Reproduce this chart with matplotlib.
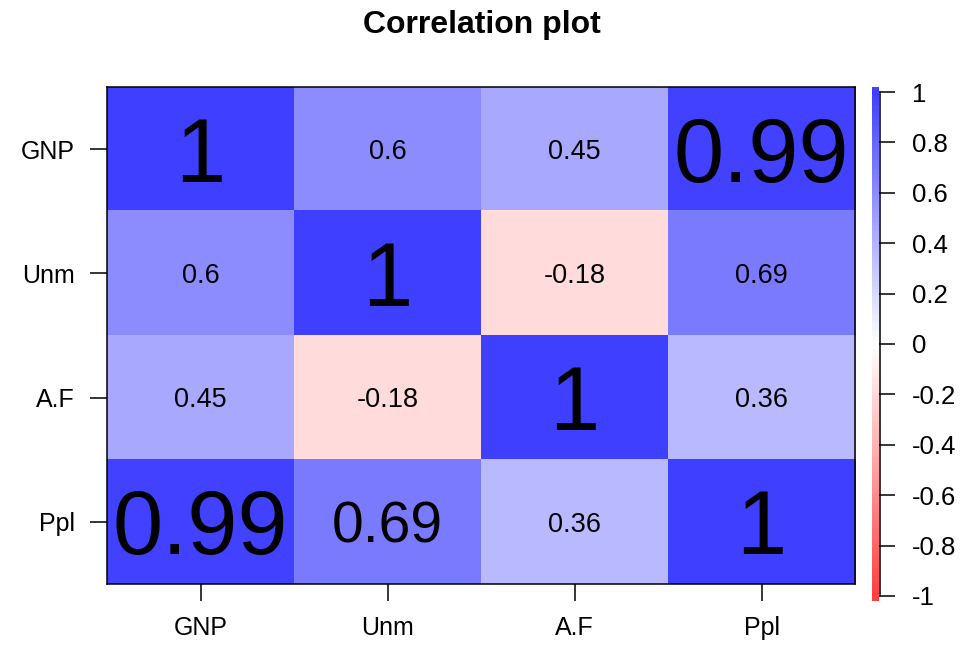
import numpy as np
import matplotlib
matplotlib.use("Agg")
import matplotlib.pyplot as plt
from matplotlib.colors import LinearSegmentedColormap

plt.rcParams['font.family'] = ['Liberation Sans', 'DejaVu Sans']

## Data

labels = ["GNP", "Unm", "A.F", "Ppl"]
r = np.array([
    [1.00, 0.60, 0.45, 0.99],
    [0.60, 1.00, -0.18, 0.69],
    [0.45, -0.18, 1.00, 0.36],
    [0.99, 0.69, 0.36, 1.00],
])
cbar_ticks = [-1, -0.8, -0.6, -0.4, -0.2, 0, 0.2, 0.4, 0.6, 0.8, 1]

## Style

# text size of each cell (pt)
big, mid, small = 65, 41, 19.5
text_size = [
    [big, small, small, big],
    [small, big, small, small],
    [small, small, big, small],
    [big, mid, small, big],
]

# red - white - blue, seen through alpha .75 on white
cmap = LinearSegmentedColormap.from_list(
    "rwb", [(1, 0.25, 0.25), (1, 1, 1), (0.25, 0.25, 1)])

##

fig = plt.figure(figsize=(9.64, 6.49), dpi=100)
ax = fig.add_axes([0.111, 0.100, 0.776, 0.766])

ax.imshow(r, cmap=cmap, vmin=-1, vmax=1, aspect='auto',
          interpolation='nearest')

n = len(labels)
for i in range(n):
    for j in range(n):
        fs = text_size[i][j]
        # centre the digits (not the full line box) on the cell
        ax.annotate(f"{r[i, j]:g}", (j, i), xytext=(0, -0.36*fs),
                    textcoords="offset points", ha="center", va="baseline",
                    color="k", fontsize=fs)

ax.set_xticks(range(n), labels, fontsize=18)
ax.set_yticks(range(n), labels, fontsize=18)
ax.tick_params(length=12, width=1.1, pad=11)
for s in ax.spines.values():
    s.set_linewidth(1.1)

fig.text(0.5, 1 - 25/649, "Correlation plot", ha="center", va="center",
         fontsize=23, fontweight="bold")

# colour bar (drawn by hand, runs a bit past -1 and 1 like in R)
cax = fig.add_axes([0.9046, 0.074, 0.0073, 0.792])
edges = np.linspace(-1.02, 1.02, 205)
mids = (edges[:-1] + edges[1:]) / 2
cax.pcolormesh([0, 1], edges, mids[:, None], cmap=cmap, vmin=-1, vmax=1)
cax.set_xlim(0, 1)
cax.set_ylim(-1.02, 1.02)
for s in cax.spines.values():
    s.set_visible(False)
cax.set_xticks([])
cax.yaxis.tick_right()
cax.set_yticks(cbar_ticks, [f"{t:g}" for t in cbar_ticks], fontsize=18.5)
cax.tick_params(axis="y", length=11.5, width=1.1, pad=12)
cax.plot([1.1, 1.1], [-1, 1], color="k", lw=1.1, clip_on=False)

fig.savefig("out.png", dpi=100)
